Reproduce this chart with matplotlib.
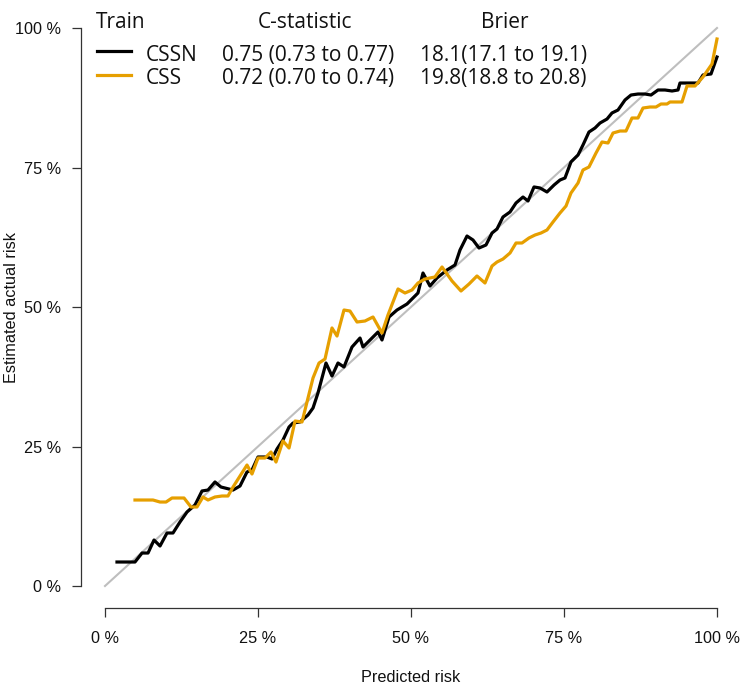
import matplotlib
matplotlib.use("Agg")
import matplotlib.pyplot as plt
from matplotlib.lines import Line2D

# ---- data (percent) ----
cssn_x = [1.96, 4.90, 6.05, 7.03, 8.01, 8.99, 10.13, 11.11, 12.25, 13.40, 14.71, 15.85,
          16.83, 17.97, 18.95, 20.92, 22.06, 23.20, 24.02, 25.00, 26.47, 27.29, 28.10,
          29.08, 30.07, 30.72, 31.86, 33.17, 33.99, 34.80, 36.11, 37.09, 38.07, 39.05,
          40.36, 41.67, 42.16, 43.63, 44.61, 45.26, 46.41, 47.71, 49.35, 51.14, 51.96,
          53.10, 54.25, 55.88, 57.19, 58.01, 59.15, 60.13, 61.11, 62.25, 63.24, 64.05,
          65.03, 66.18, 67.16, 68.30, 69.12, 70.10, 71.08, 72.22, 73.37, 74.35, 75.16,
          76.14, 77.29, 78.10, 79.08, 80.07, 80.88, 82.03, 82.84, 83.82, 84.97, 85.95,
          87.09, 88.24, 89.22, 90.36, 91.50, 92.65, 93.63, 93.95, 96.90, 97.71, 99.02, 100.0]
cssn_y = [4.30, 4.30, 5.91, 5.91, 8.24, 7.17, 9.50, 9.50, 11.47, 13.26, 14.52, 17.03,
          17.20, 18.64, 17.74, 17.20, 17.92, 20.43, 20.79, 23.12, 23.12, 22.76, 24.55,
          26.16, 28.49, 29.21, 29.39, 30.65, 31.90, 34.59, 39.96, 37.63, 39.96, 39.25,
          42.83, 44.44, 42.83, 44.44, 45.52, 44.09, 48.21, 49.46, 50.54, 52.51, 56.09,
          53.76, 55.20, 56.63, 57.53, 60.22, 62.72, 62.01, 60.57, 61.11, 63.26, 63.98,
          66.13, 67.03, 68.64, 69.71, 69.00, 71.51, 71.33, 70.61, 71.86, 72.76, 73.12,
          75.99, 77.24, 79.03, 81.36, 82.08, 82.97, 83.69, 84.77, 85.30, 87.10, 87.99,
          88.17, 88.17, 87.99, 88.89, 88.89, 88.71, 88.89, 90.14, 90.14, 91.58, 91.76, 94.80]

css_x = [4.90, 7.84, 8.99, 9.97, 10.95, 12.91, 14.05, 15.03, 16.01, 16.83, 17.97, 19.12,
         20.10, 20.92, 23.20, 24.02, 25.00, 26.14, 27.12, 27.94, 29.08, 30.07, 31.05,
         32.19, 33.99, 34.97, 35.95, 37.09, 37.91, 39.05, 40.03, 41.18, 42.48, 43.79,
         45.26, 46.24, 47.88, 49.02, 50.16, 51.14, 52.29, 53.92, 55.07, 56.70, 58.17,
         59.48, 60.78, 62.09, 63.24, 64.05, 65.03, 66.18, 67.16, 68.14, 69.28, 70.26,
         71.24, 72.22, 73.20, 74.35, 75.33, 76.14, 77.29, 78.10, 79.08, 80.23, 81.21,
         82.19, 83.01, 84.15, 85.13, 86.11, 87.09, 87.91, 89.05, 90.03, 90.85, 91.83,
         92.32, 94.28, 95.10, 96.41, 97.71, 99.18, 100.0]
css_y = [15.41, 15.41, 15.05, 15.05, 15.77, 15.77, 14.16, 14.16, 15.95, 15.41, 15.95, 16.13,
         16.13, 17.74, 21.68, 20.07, 22.94, 22.94, 24.01, 22.22, 25.99, 24.73, 29.57,
         29.39, 37.28, 39.96, 40.68, 46.24, 44.80, 49.46, 49.28, 47.31, 47.49, 48.21,
         45.34, 48.57, 53.23, 52.51, 53.05, 54.30, 55.02, 55.38, 57.17, 54.66, 52.87,
         54.12, 55.56, 54.30, 57.35, 58.06, 58.60, 59.68, 61.47, 61.47, 62.37, 62.90,
         63.26, 63.80, 65.23, 66.85, 68.10, 70.43, 72.22, 74.55, 75.09, 77.60, 79.57,
         79.39, 81.18, 81.54, 81.54, 83.87, 83.87, 85.66, 85.84, 85.84, 86.38, 86.38,
         86.74, 86.74, 89.61, 89.61, 91.22, 93.55, 98.03]

tick_vals = [0, 25, 50, 75, 100]
tick_labels = ["0 %", "25 %", "50 %", "75 %", "100 %"]

legend_title = "Train"
col_headers = ["C-statistic", "Brier"]
model_names = ["CSSN", "CSS"]
cstat_text = ["0.75 (0.73 to 0.77)", "0.72 (0.70 to 0.74)"]
brier_text = ["18.1(17.1 to 19.1)", "19.8(18.8 to 20.8)"]
colors = ["#000000", "#E69F00"]

# ---- figure ----
W, H = 744, 691
fig = plt.figure(figsize=(W / 100, H / 100), dpi=100)
fig.patch.set_facecolor("white")

left_px, right_px = 80.52, 741.48
bottom_px, top_px = 608.32, 5.68
ax = fig.add_axes([left_px / W, 1 - bottom_px / H,
                   (right_px - left_px) / W, (bottom_px - top_px) / H])
ax.set_xlim(-0.04, 1.04)
ax.set_ylim(-0.04, 1.04)

ax.plot([0, 1], [0, 1], color="#BEBEBE", lw=1.5, zorder=1)
ax.plot([v / 100 for v in cssn_x], [v / 100 for v in cssn_y], color=colors[0], lw=2.3, zorder=2)
ax.plot([v / 100 for v in css_x], [v / 100 for v in css_y], color=colors[1], lw=2.3, zorder=3)

for s in ["top", "right"]:
    ax.spines[s].set_visible(False)
for s in ["left", "bottom"]:
    ax.spines[s].set_bounds(0, 1)
    ax.spines[s].set_color("#333333")
    ax.spines[s].set_linewidth(0.9)

tick_font = dict(family=["Liberation Sans", "DejaVu Sans"], size=11.7)
ax.set_xticks([v / 100 for v in tick_vals])
ax.set_yticks([v / 100 for v in tick_vals])
ax.set_xticklabels(tick_labels, fontdict=tick_font)
ax.set_yticklabels(tick_labels, fontdict=tick_font)
ax.tick_params(axis="x", length=6.5, width=0.9, color="#333333", pad=10, labelcolor="#111111")
ax.tick_params(axis="y", length=6.8, width=0.9, color="#333333", pad=7, labelcolor="#111111")

fig.text(411 / W, 1 - 678 / H, "Predicted risk", ha="center", va="center",
         family=["Liberation Sans", "DejaVu Sans"], size=11.7, color="#111111")
fig.text(12 / W, 1 - 307 / H, "Estimated actual risk", ha="center", va="center",
         rotation=90, family=["Liberation Sans", "DejaVu Sans"], size=11.7, color="#111111")

# ---- legend table ----
lf = dict(family=["Open Sans", "DejaVu Sans"], size=15, color="#111111")
fig.text(96 / W, 1 - 28 / H, legend_title, ha="left", va="baseline", **lf)
fig.text(305 / W, 1 - 28 / H, col_headers[0], ha="center", va="baseline", **lf)
fig.text(505 / W, 1 - 28 / H, col_headers[1], ha="center", va="baseline", **lf)
row_base = [61, 84]
row_line = [51, 75]
for i in range(2):
    fig.add_artist(Line2D([97 / W, 131 / W], [1 - row_line[i] / H] * 2,
                          color=colors[i], lw=2.3, transform=fig.transFigure))
    fig.text(146 / W, 1 - row_base[i] / H, model_names[i], ha="left", va="baseline", **lf)
    fig.text(222 / W, 1 - row_base[i] / H, cstat_text[i], ha="left", va="baseline", **lf)
    fig.text(420 / W, 1 - row_base[i] / H, brier_text[i], ha="left", va="baseline", **lf)

fig.savefig("out.png", dpi=100, facecolor="white")
